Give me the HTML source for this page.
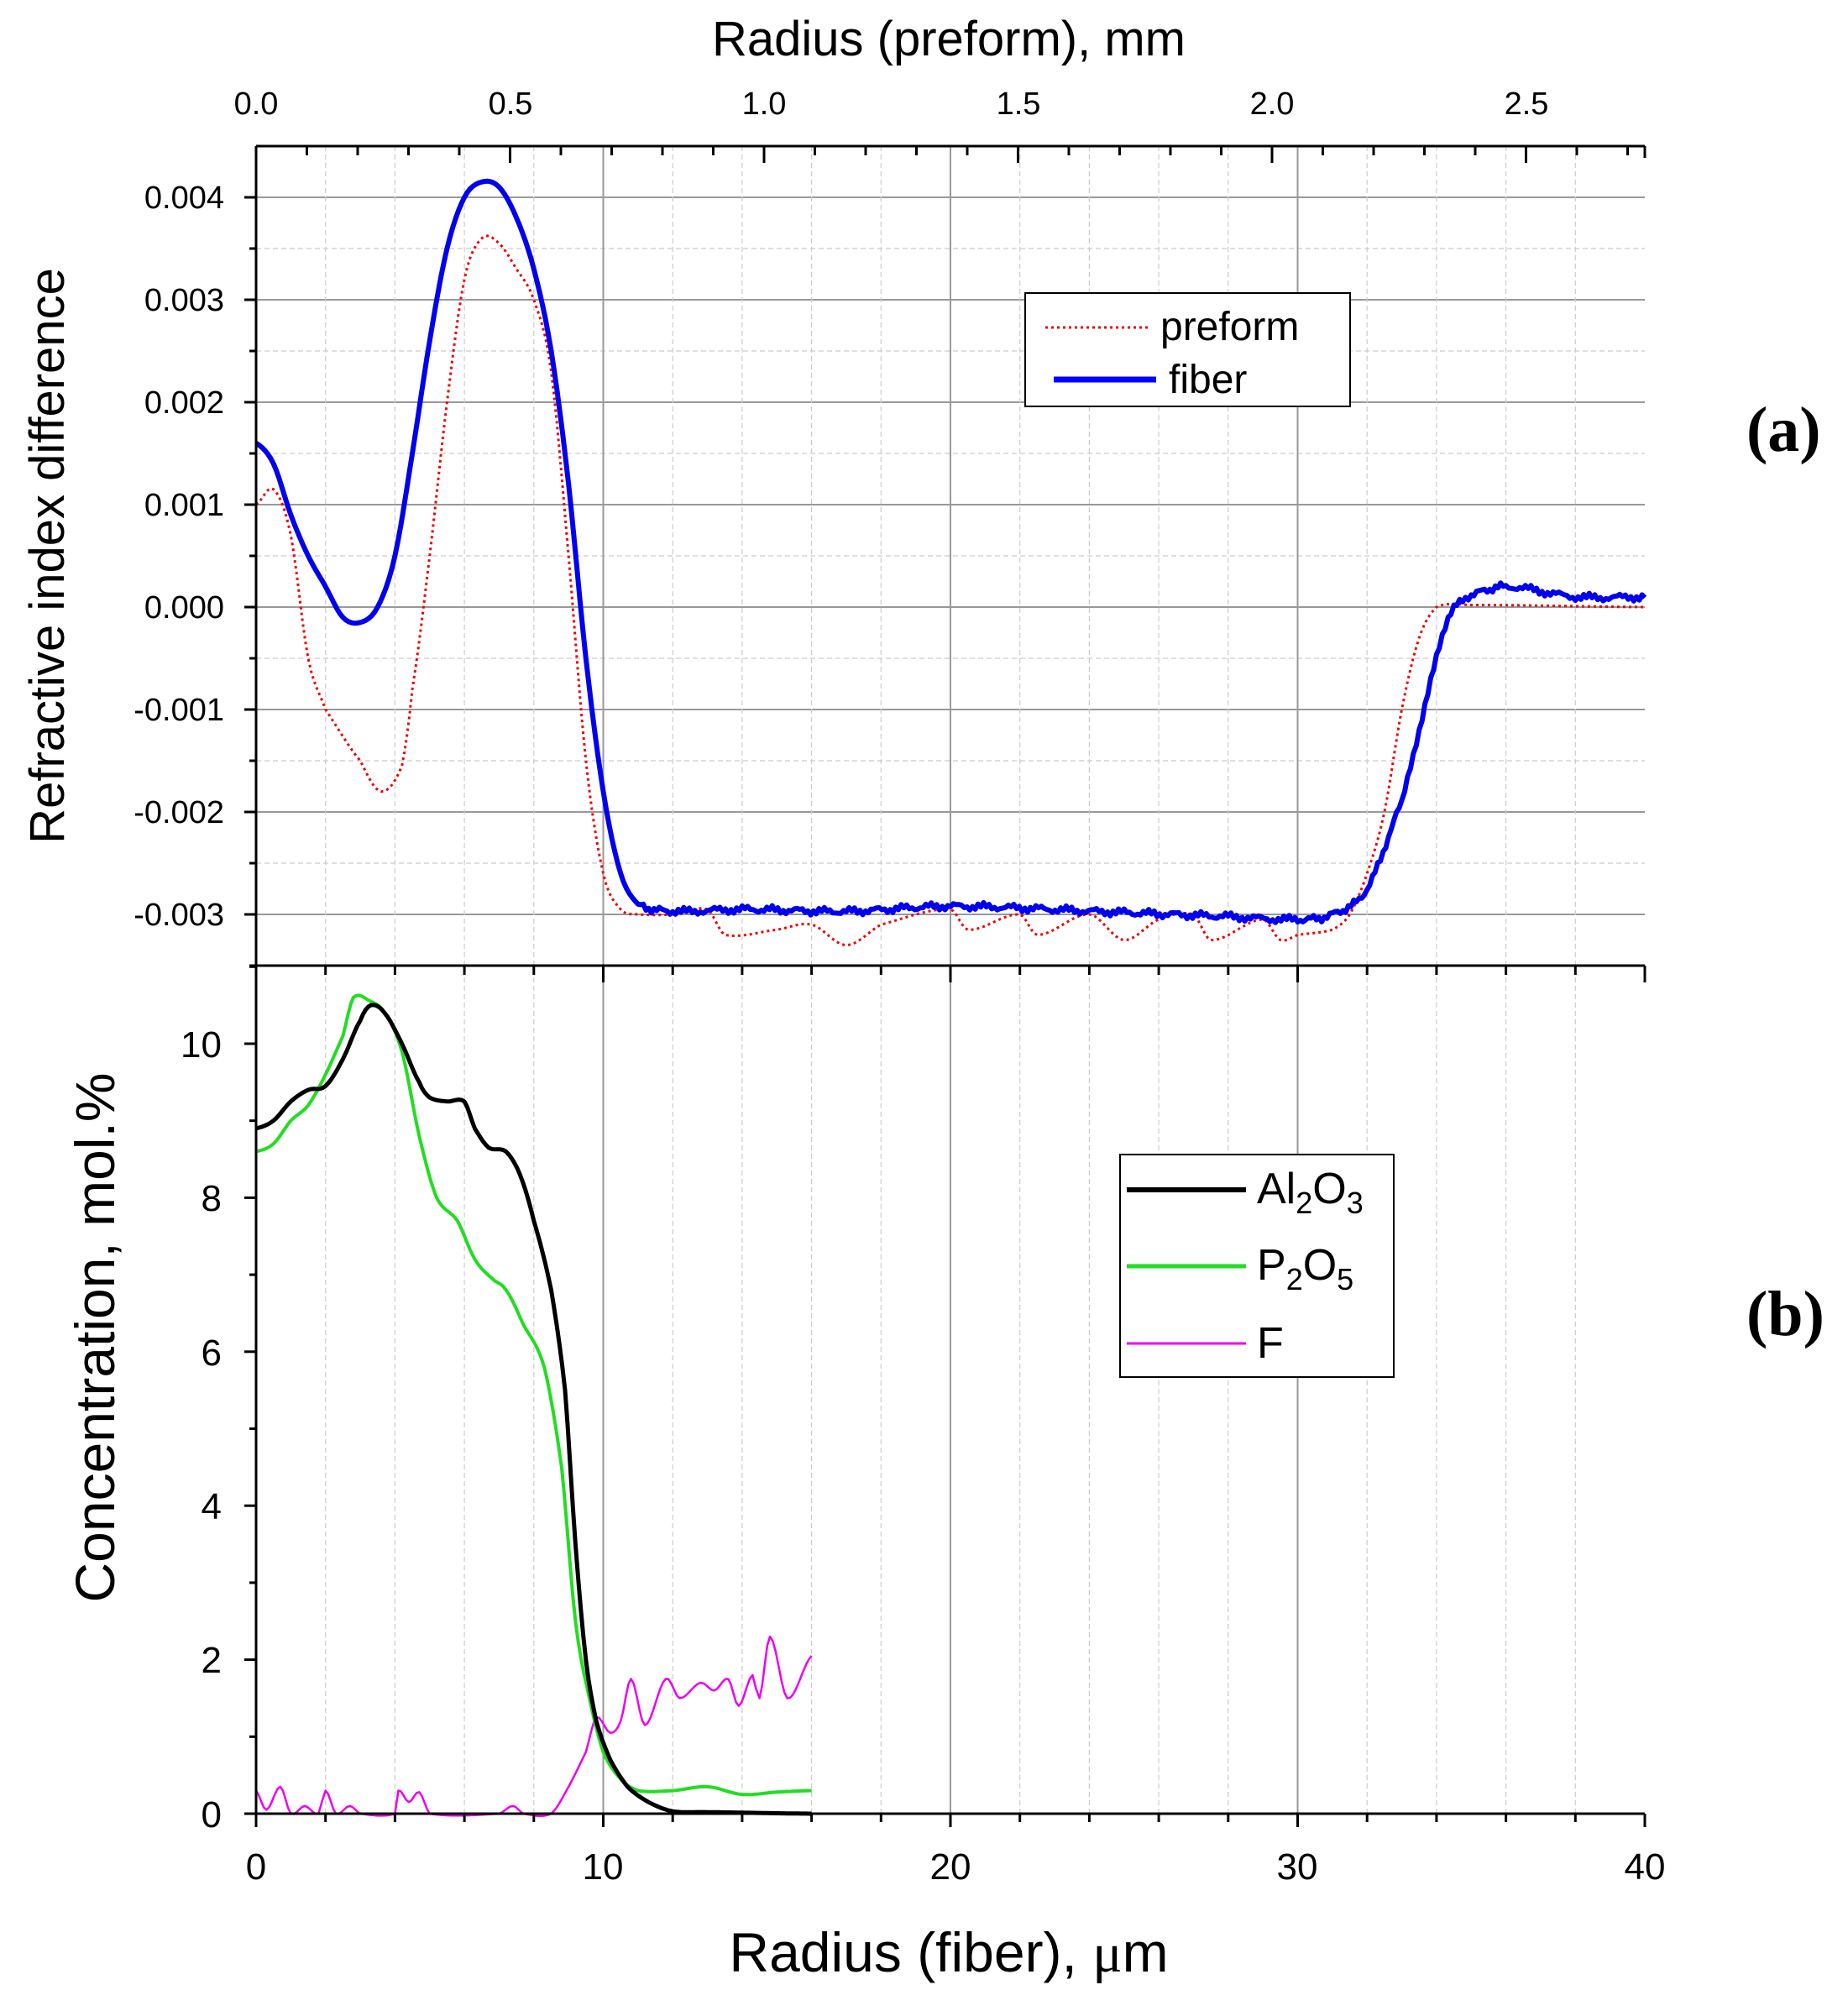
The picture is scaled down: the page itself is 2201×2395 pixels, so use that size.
<!DOCTYPE html>
<html><head><meta charset="utf-8"><style>
body{margin:0;background:#fff}
svg text{font-family:"Liberation Sans",sans-serif;fill:#000}
</style></head><body>
<svg id="s" width="2201" height="2390" xmlns="http://www.w3.org/2000/svg">
<g id="grid"></g>
<g id="curves"></g>
<g id="axes"></g>
<text x="1130" y="66" font-size="58" text-anchor="middle">Radius (preform), mm</text>
<g font-size="38" text-anchor="middle">
<text x="305" y="136">0.0</text><text x="608" y="136">0.5</text><text x="910" y="136">1.0</text>
<text x="1213" y="136">1.5</text><text x="1515" y="136">2.0</text><text x="1818" y="136">2.5</text>
</g>
<g font-size="38" text-anchor="end">
<text x="267" y="248">0.004</text><text x="267" y="370">0.003</text><text x="267" y="492">0.002</text>
<text x="267" y="614">0.001</text><text x="267" y="736">0.000</text><text x="267" y="858">-0.001</text>
<text x="267" y="980">-0.002</text><text x="267" y="1102">-0.003</text>
</g>
<text transform="translate(76,662) rotate(-90)" font-size="58" text-anchor="middle">Refractive index difference</text>
<g font-size="44" text-anchor="end">
<text x="264" y="1259">10</text><text x="264" y="1442">8</text><text x="264" y="1626">6</text>
<text x="264" y="1809">4</text><text x="264" y="1992">2</text><text x="264" y="2176">0</text>
</g>
<g font-size="44" text-anchor="middle">
<text x="305" y="2238">0</text><text x="718" y="2238">10</text><text x="1132" y="2238">20</text>
<text x="1545" y="2238">30</text><text x="1959" y="2238">40</text>
</g>
<text transform="translate(136,1593) rotate(-90)" font-size="66" text-anchor="middle">Concentration, mol.%</text>
<text x="1130" y="2348" font-size="66" text-anchor="middle">Radius (fiber), <tspan font-family="Liberation Serif">μ</tspan>m</text>
<text x="2080" y="537" font-size="76" font-weight="bold" style="font-family:'Liberation Serif',serif">(a)</text>
<text x="2080" y="1590" font-size="76" font-weight="bold" style="font-family:'Liberation Serif',serif">(b)</text>
<rect x="1221" y="349" width="387" height="135" fill="#fff" stroke="#000" stroke-width="2"/>
<line x1="1245" y1="390" x2="1370" y2="390" stroke="#e00" stroke-width="3" stroke-dasharray="3,4"/>
<text x="1382" y="405" font-size="48">preform</text>
<line x1="1255" y1="452" x2="1377" y2="452" stroke="#00f" stroke-width="7"/>
<text x="1392" y="468" font-size="48">fiber</text>
<rect x="1334" y="1375" width="326" height="265" fill="#fff" stroke="#000" stroke-width="2"/>
<line x1="1342" y1="1417" x2="1484" y2="1417" stroke="#000" stroke-width="6"/>
<text x="1497" y="1433" font-size="52">Al<tspan font-size="36" dy="12">2</tspan><tspan dy="-12">O</tspan><tspan font-size="36" dy="12">3</tspan></text>
<line x1="1342" y1="1508" x2="1484" y2="1508" stroke="#22dd22" stroke-width="5"/>
<text x="1497" y="1524" font-size="52">P<tspan font-size="36" dy="12">2</tspan><tspan dy="-12">O</tspan><tspan font-size="36" dy="12">5</tspan></text>
<line x1="1342" y1="1600" x2="1484" y2="1600" stroke="#ee00ee" stroke-width="3"/>
<text x="1497" y="1617" font-size="52">F</text>
</svg>
<script>
const NS="http://www.w3.org/2000/svg";
const L=305,R=1959,T=174,M=1150,B=2160;
const X=u=>L+u*41.35, YA=v=>723-v*122, YB=c=>2160-c*91.7;
function el(p,tag,a){const e=document.createElementNS(NS,tag);for(const k in a)e.setAttribute(k,a[k]);document.getElementById(p).appendChild(e);return e;}
function ln(p,x1,y1,x2,y2,c,w,d){const a={x1,y1,x2,y2,stroke:c,"stroke-width":w};if(d)a["stroke-dasharray"]=d;el(p,"line",a);}
for(let v=-3.5;v<=4.01;v+=0.5){const y=YA(v);const maj=Math.abs(v-Math.round(v))<1e-6;ln("grid",L,y,R,y,maj?"#999":"#ccc",maj?2:1.2,maj?null:"6,4");}
for(let u=2;u<40;u+=2){const x=X(u);const maj=u%10==0;ln("grid",x,T,x,B,maj?"#999":"#ccc",maj?2:1.2,maj?null:"6,4");}
ln("axes",L,T,L,B,"#000",3);ln("axes",L,T,R,T,"#000",3);ln("axes",L,M,R,M,"#000",3);ln("axes",L,B,R,B,"#000",3);
for(let i=0;i<=27;i++){const x=L+i*60.5;const maj=i%5==0;ln("axes",x,T,x,T+(maj?20:11),"#000",3);}
ln("axes",R,T,R,T+14,"#000",3);
for(let v=-3.5;v<=4.01;v+=0.5){const y=YA(v);const maj=Math.abs(v-Math.round(v))<1e-6;ln("axes",L-(maj?14:8),y,L,y,"#000",3);}
for(let c=0;c<=11;c++){const y=YB(c);ln("axes",L-(c%2==0?14:8),y,L,y,"#000",3);}
for(let u=0;u<=40;u+=2){const x=X(u);const maj=u%10==0;ln("axes",x,B,x,B+(maj?16:10),"#000",3);ln("axes",x,M,x,M+(maj?20:11),"#000",3);}
function smooth(pts){const n=[];for(let i=0;i<pts.length-1;i++){const p0=pts[Math.max(0,i-1)],p1=pts[i],p2=pts[i+1],p3=pts[Math.min(pts.length-1,i+2)];const k=Math.max(2,Math.round((p2[0]-p1[0])/0.08));for(let j=0;j<k;j++){const t=j/k,t2=t*t,t3=t2*t;const f=(a,b,c,d)=>0.5*((2*b)+(-a+c)*t+(2*a-5*b+4*c-d)*t2+(-a+3*b-3*c+d)*t3);n.push([p1[0]+(p2[0]-p1[0])*t,f(p0[1],p1[1],p2[1],p3[1])]);}}n.push(pts[pts.length-1]);return n;}
function curve(pts,fy,c,w,d,noise){let s="";const n=smooth(pts);
n.forEach((p,i)=>{let yy=fy(p[1]);if(noise&&p[0]>11)yy+=(Math.sin(p[0]*37.1)+Math.sin(p[0]*71.3))*noise;s+=(i?"L":"M")+X(p[0]).toFixed(1)+","+yy.toFixed(1);});
const a={d:s,fill:"none",stroke:c,"stroke-width":w,"stroke-linejoin":"round"};if(d)a["stroke-dasharray"]=d;el("curves","path",a);}
const red=[[0,1.0],[0.5,1.15],[1,0.7],[1.5,-0.5],[2,-1.0],[3,-1.5],[3.6,-1.8],[4.2,-1.55],[4.5,-0.8],[5,0.5],[5.5,2.0],[6,3.2],[6.5,3.6],[7,3.55],[7.5,3.3],[8,3.0],[8.5,2.3],[9,0.5],[9.5,-1.5],[10,-2.6],[10.5,-2.95],[11,-3.0],[12,-3.0],[13,-2.95],[13.5,-3.2],[15,-3.15],[16,-3.1],[17,-3.3],[18,-3.1],[20,-2.95],[20.5,-3.15],[22,-3.0],[22.5,-3.2],[24,-3.0],[25,-3.25],[26,-3.05],[27,-3.0],[27.5,-3.25],[29,-3.05],[29.5,-3.25],[30,-3.2],[31,-3.15],[31.5,-3.0],[32,-2.6],[32.5,-2.0],[33,-1.0],[33.5,-0.3],[34,0],[35,0.02],[40,0.0]];
const blue=[[0,1.6],[0.5,1.4],[1,0.9],[1.5,0.5],[2,0.2],[2.5,-0.1],[3,-0.15],[3.5,0],[4,0.5],[4.5,1.5],[5,2.6],[5.5,3.5],[6,4.0],[6.5,4.15],[7,4.1],[7.5,3.8],[8,3.3],[8.5,2.5],[9,1.2],[9.5,-0.5],[10,-1.8],[10.5,-2.6],[11,-2.9],[12,-2.97],[14,-2.95],[17,-2.97],[20,-2.92],[25,-2.98],[28,-3.02],[30,-3.05],[31,-3.0],[32,-2.75],[33,-1.9],[33.5,-1.2],[34,-0.5],[34.5,0.0],[35,0.12],[36,0.2],[38,0.1],[40,0.1]];
curve(red,YA,"#e00",3,"3,4",0);
curve(blue,YA,"#0000ee",6,null,2.5);
const blk=[[0,8.9],[0.5,9.0],[1,9.25],[1.5,9.4],[2,9.45],[2.5,9.8],[3,10.3],[3.3,10.5],[3.7,10.4],[4.2,10.0],[4.7,9.5],[5,9.3],[5.5,9.25],[6,9.25],[6.3,8.9],[6.7,8.65],[7.2,8.6],[7.6,8.3],[8,7.7],[8.5,6.8],[8.9,5.5],[9.2,3.5],[9.5,2.0],[9.8,1.2],[10.2,0.7],[10.7,0.35],[11.3,0.15],[12,0.03],[13,0.02],[16,0.0]];
const grn=[[0,8.6],[0.5,8.7],[1,9.0],[1.5,9.2],[2,9.6],[2.5,10.1],[2.8,10.6],[3.3,10.55],[3.7,10.4],[4.2,9.9],[4.7,8.8],[5.2,8.0],[5.8,7.7],[6.3,7.2],[6.8,6.95],[7.2,6.8],[7.7,6.35],[8.3,5.8],[8.8,4.5],[9.2,2.5],[9.6,1.5],[10,0.8],[10.5,0.45],[11,0.3],[12,0.3],[13,0.35],[14,0.25],[15,0.28],[16,0.3]];
const mag=[[0,0.3],[0.3,0.05],[0.7,0.35],[1,0.0],[1.4,0.1],[1.8,0],[2,0.3],[2.3,0],[2.7,0.1],[3,0],[4,0],[4.1,0.3],[4.4,0.15],[4.7,0.28],[5,0],[7,0],[7.4,0.1],[7.7,0],[8.5,0],[9,0.35],[9.5,0.8],[9.8,1.25],[10.2,1.05],[10.5,1.2],[10.8,1.75],[11.2,1.15],[11.8,1.75],[12.2,1.5],[12.8,1.7],[13.2,1.6],[13.6,1.75],[13.9,1.4],[14.3,1.8],[14.5,1.5],[14.8,2.3],[15.3,1.5],[16,2.05]];
curve(mag,YB,"#ee00ee",2.5,null,0);
curve(grn,YB,"#22dd22",4,null,0);
curve(blk,YB,"#000",5,null,0);
</script>
</body></html>
